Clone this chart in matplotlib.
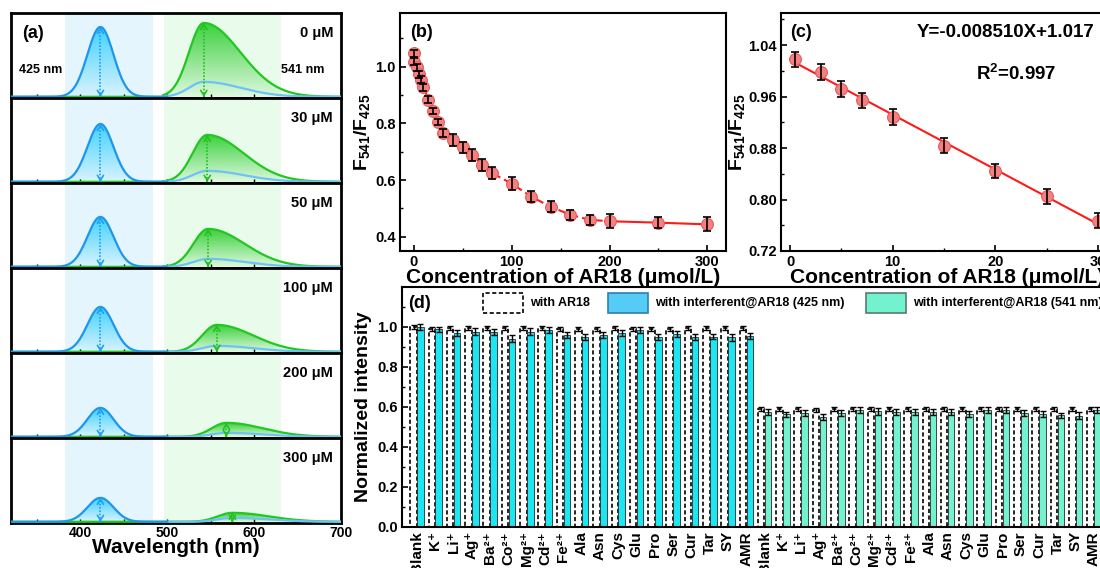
import numpy as np
import matplotlib
matplotlib.use('Agg')
import matplotlib.pyplot as plt
from matplotlib.patches import Polygon, Rectangle
from matplotlib.colors import to_rgb

plt.rcParams['font.family'] = ['Liberation Sans', 'DejaVu Sans']
plt.rcParams['font.weight'] = 'bold'
plt.rcParams['axes.labelweight'] = 'bold'
plt.rcParams['mathtext.fontset'] = 'custom'
plt.rcParams['mathtext.rm'] = 'Liberation Sans:bold'
plt.rcParams['mathtext.it'] = 'Liberation Sans:bold'
plt.rcParams['mathtext.bf'] = 'Liberation Sans:bold'
plt.rcParams['xtick.direction'] = 'in'
plt.rcParams['ytick.direction'] = 'in'
plt.rcParams['axes.linewidth'] = 1.5

# ---- (a) emission spectra, peak parameters ----
conc_labels = ['0 μM', '30 μM', '50 μM', '100 μM', '200 μM', '300 μM']
blue_peak_nm = [423, 423, 423, 423, 423, 423]
blue_peak_h = [70, 58, 50, 45, 29, 24]
green_peak_nm = [542, 546, 547, 557, 568, 575]
green_peak_h = [74, 47, 38, 27, 14, 9]
tail_peak_h = [15, 11, 8, 6, 4, 4]
blue_sigma = 15
green_sigma_l = 17
green_sigma_r = 42

# ---- (b) ratio vs concentration ----
conc_b = [0, 0.5, 3, 5, 7, 10, 15, 20, 25, 30, 40, 50, 60, 70, 80, 100, 120, 140, 160, 180, 200, 250, 300]
ratio_b = [1.048, 1.018, 0.998, 0.973, 0.954, 0.928, 0.884, 0.844, 0.805, 0.766, 0.742, 0.716, 0.689,
           0.654, 0.625, 0.588, 0.542, 0.506, 0.478, 0.46, 0.455, 0.45, 0.444]
err_b = [0.012, 0.012, 0.012, 0.012, 0.012, 0.012, 0.012, 0.012, 0.012, 0.013, 0.02, 0.02, 0.02,
         0.02, 0.02, 0.022, 0.02, 0.02, 0.018, 0.018, 0.025, 0.02, 0.025]

# ---- (c) linear range ----
conc_c = [0.5, 3, 5, 7, 10, 15, 20, 25, 30]
ratio_c = [1.018, 0.998, 0.972, 0.954, 0.928, 0.884, 0.844, 0.805, 0.767]
err_c = [0.012, 0.012, 0.012, 0.012, 0.012, 0.012, 0.011, 0.012, 0.012]
slope, intercept = -0.008510, 1.017

# ---- (d) selectivity ----
ions = ['Blank', 'K⁺', 'Li⁺', 'Ag⁺', 'Ba²⁺', 'Co²⁺', 'Mg²⁺', 'Cd²⁺', 'Fe²⁺',
        'Ala', 'Asn', 'Cys', 'Glu', 'Pro', 'Ser', 'Cur', 'Tar', 'SY', 'AMR']
ref_425 = [1.0, 0.99, 0.995, 0.995, 0.995, 0.993, 0.995, 0.995, 0.99, 0.99, 0.99, 0.995, 0.99, 0.99,
           0.99, 0.993, 0.993, 0.995, 0.995]
int_425 = [1.0, 0.988, 0.968, 0.977, 0.973, 0.942, 0.977, 0.983, 0.962, 0.952, 0.962, 0.97, 0.983,
           0.95, 0.967, 0.95, 0.952, 0.948, 0.956]
ref_541 = [0.59, 0.588, 0.588, 0.586, 0.588, 0.588, 0.588, 0.588, 0.588, 0.588, 0.588, 0.588, 0.59,
           0.59, 0.588, 0.588, 0.588, 0.588, 0.59]
int_541 = [0.575, 0.563, 0.572, 0.55, 0.572, 0.584, 0.578, 0.575, 0.575, 0.575, 0.573, 0.566, 0.584,
           0.587, 0.568, 0.565, 0.558, 0.557, 0.585]
err_ref = [0.01] * 19
err_int = [0.016, 0.014, 0.015, 0.016, 0.015, 0.016, 0.016, 0.015, 0.015, 0.015, 0.015, 0.015, 0.015,
           0.015, 0.015, 0.015, 0.013, 0.016, 0.016]

W, H = 1100, 568
fig = plt.figure(figsize=(11, 5.68), dpi=100)


def fax(l, t, r, b):
    return fig.add_axes([l / W, 1 - b / H, (r - l) / W, (b - t) / H])


def grad_fill(ax, x, y, color, a_top, a_bot):
    img = np.zeros((100, 1, 4))
    img[..., :3] = to_rgb(color)
    img[..., 3] = np.linspace(a_bot, a_top, 100)[:, None]
    im = ax.imshow(img, aspect='auto', origin='lower', extent=[x.min(), x.max(), 0, y.max()],
                   zorder=1, interpolation='bilinear')
    verts = np.column_stack([np.r_[x, x[::-1]], np.r_[y, np.zeros_like(y)]])
    patch = Polygon(verts, closed=True, facecolor='none', edgecolor='none', transform=ax.transData)
    ax.add_patch(patch)
    im.set_clip_path(patch)


def dbl_arrow(ax, x, h, color):
    ax.plot([x, x], [0, h], ls=(0, (1, 1)), color=color, lw=1.2, zorder=5)
    ap = dict(arrowstyle='->,head_length=0.35,head_width=0.22', color=color, lw=1.2, shrinkA=0, shrinkB=0)
    ax.annotate('', xy=(x, h), xytext=(x, h - 1), arrowprops=ap, zorder=5)
    ax.annotate('', xy=(x, 0), xytext=(x, 1), arrowprops=ap, zorder=5)


# ================= (a) =================
wl = np.linspace(320, 700, 761)
sub_h = (523 - 13) / 6
blue_c, green_c, tail_c = '#1E96EE', '#22C722', '#6EC2F6'
for i in range(6):
    top = 13 + i * sub_h
    ax = fax(11, top, 341, top + sub_h)
    ax.axvspan(382, 484, color='#E4F5FD', lw=0, zorder=0)
    ax.axvspan(496, 631, color='#E9FBEA', lw=0, zorder=0)
    b = blue_peak_h[i] * np.exp(-0.5 * ((wl - blue_peak_nm[i]) / blue_sigma) ** 2)
    c = green_peak_nm[i]
    s = np.where(wl < c, green_sigma_l, green_sigma_r)
    shape = np.exp(-0.5 * ((wl - c) / s) ** 2)
    g = green_peak_h[i] * shape
    t = tail_peak_h[i] * shape
    bm = wl <= 500
    gm = wl >= 495
    grad_fill(ax, wl[bm], b[bm], '#22CCFF', 0.85, 0.05)
    grad_fill(ax, wl[gm], g[gm], '#2ACC2A', 0.9, 0.06)
    ax.plot(wl, np.where(gm, g, 0), color=green_c, lw=1.6, zorder=3)
    ax.plot(wl[gm], t[gm], color=tail_c, lw=1.6, zorder=3)
    ax.plot(wl[bm], b[bm], color=blue_c, lw=1.6, zorder=4)
    dbl_arrow(ax, blue_peak_nm[i], blue_peak_h[i], '#1FA0EE')
    dbl_arrow(ax, c, green_peak_h[i], '#22C022')
    ax.set_xlim(320, 700)
    ax.set_ylim(-1.2, 84)
    ax.set_yticks([])
    ax.set_xticks([400, 500, 600, 700])
    ax.set_xticks([350, 450, 550, 650], minor=True)
    ax.tick_params(axis='x', which='both', length=3, width=1)
    for sp in ax.spines.values():
        sp.set_linewidth(2)
    ax.text(0.976, 0.76, conc_labels[i], transform=ax.transAxes, ha='right', va='center',
            fontsize=10.5, fontweight='bold')
    if i == 0:
        ax.text(0.035, 0.76, '(a)', transform=ax.transAxes, ha='left', va='center', fontsize=13)
        ax.text(0.09, 0.33, '425 nm', transform=ax.transAxes, ha='center', va='center', fontsize=9)
        ax.text(0.885, 0.33, '541 nm', transform=ax.transAxes, ha='center', va='center', fontsize=9)
    if i < 5:
        ax.tick_params(axis='x', labelbottom=False)
    else:
        ax.tick_params(axis='x', labelsize=10, pad=2)
        ax.set_xlabel('Wavelength (nm)', fontsize=15, labelpad=-1)

# ================= (b) =================
pt_face, pt_edge, line_c = '#F58080', '#E25A5A', '#FF1A1A'
axb = fax(400, 13, 726, 251)
k = conc_b.index(200)
axb.plot(conc_b[:k + 1], ratio_b[:k + 1], ls=(0, (4, 2)), color=line_c, lw=1.5, zorder=2)
axb.plot(conc_b[k:], ratio_b[k:], ls='-', color=line_c, lw=1.5, zorder=2)
axb.plot(conc_b, ratio_b, 'o', ms=8.5, mfc=pt_face, mec=pt_edge, mew=0.8, zorder=3)
axb.errorbar(conc_b, ratio_b, yerr=err_b, fmt='none', ecolor='black', elinewidth=1.2,
             capsize=3, capthick=1.2, zorder=4)
axb.set_xlim(-14, 319)
axb.set_ylim(0.35, 1.19)
axb.set_xticks([0, 100, 200, 300])
axb.set_xticks([50, 150, 250], minor=True)
axb.set_yticks([0.4, 0.6, 0.8, 1.0])
axb.set_yticks([0.5, 0.7, 0.9, 1.1], minor=True)
axb.tick_params(which='major', length=4, width=1.2, labelsize=10.5, pad=3)
axb.tick_params(which='minor', length=2.5, width=1)
axb.set_xlabel('Concentration of AR18 (μmol/L)', fontsize=15, labelpad=-1)
axb.set_ylabel('F$_{541}$/F$_{425}$', fontsize=14, labelpad=2)
axb.text(0.03, 0.916, '(b)', transform=axb.transAxes, ha='left', va='center', fontsize=13)

# ================= (c) =================
axc = fax(781, 13, 1113, 251)
axc.set_xlim(-0.88, 31.45)
axc.set_ylim(0.72, 1.09)
fit_x = np.array([conc_c[0], axc.get_xlim()[1]])
axc.plot(fit_x, slope * fit_x + intercept, color=line_c, lw=1.5, zorder=2)
axc.plot(conc_c, ratio_c, 'o', ms=8.5, mfc=pt_face, mec=pt_edge, mew=0.8, zorder=3)
axc.errorbar(conc_c, ratio_c, yerr=err_c, fmt='none', ecolor='black', elinewidth=1.2,
             capsize=3, capthick=1.2, zorder=4)
axc.set_xticks([0, 10, 20, 30])
axc.set_xticks([5, 15, 25], minor=True)
axc.set_yticks([0.72, 0.80, 0.88, 0.96, 1.04])
axc.set_yticks([0.76, 0.84, 0.92, 1.00, 1.08], minor=True)
axc.tick_params(which='major', length=4, width=1.2, labelsize=10.5, pad=3)
axc.tick_params(which='minor', length=2.5, width=1)
axc.set_xlabel('Concentration of AR18 (μmol/L)', fontsize=15, labelpad=-1)
axc.set_ylabel('F$_{541}$/F$_{425}$', fontsize=14, labelpad=1)
axc.text(0.027, 0.916, '(c)', transform=axc.transAxes, ha='left', va='center', fontsize=13)
axc.text(0.675, 0.916, 'Y=-0.008510X+1.017', transform=axc.transAxes, ha='center', va='center',
         fontsize=13.5)
axc.text(0.71, 0.745, 'R$^2$=0.997', transform=axc.transAxes, ha='center', va='center', fontsize=13.5)

# ================= (d) =================
axd = fax(402, 287, 1105, 527)
n = len(ions)
xpos = np.arange(2 * n)
bw = 0.36
cyan, aqua = '#1CE6F2', '#72F2CE'
axd.bar(xpos - 0.19, ref_425 + ref_541, width=bw, facecolor='white', edgecolor='black',
        ls=(0, (2.5, 1.5)), lw=1.2, zorder=2)
axd.bar(xpos[:n] + 0.19, int_425, width=bw, color=cyan, edgecolor='#2a2a2a', lw=0.6, zorder=2)
axd.bar(xpos[n:] + 0.19, int_541, width=bw, color=aqua, edgecolor='#2a2a2a', lw=0.6, zorder=2)
axd.errorbar(xpos - 0.19, ref_425 + ref_541, yerr=err_ref * 2, fmt='none', ecolor='black',
             elinewidth=1, capsize=2.5, capthick=1, zorder=3)
axd.errorbar(xpos + 0.19, int_425 + int_541, yerr=err_int * 2, fmt='none', ecolor='black',
             elinewidth=1, capsize=2.5, capthick=1, zorder=3)
axd.set_xlim(-0.82, 37.6)
axd.set_ylim(0, 1.2)
axd.set_xticks(xpos)
axd.set_xticklabels(ions * 2, rotation=90, fontsize=11)
axd.tick_params(axis='x', length=0, pad=3)
axd.set_yticks([0.0, 0.2, 0.4, 0.6, 0.8, 1.0])
axd.set_yticks([0.1, 0.3, 0.5, 0.7, 0.9, 1.1], minor=True)
axd.tick_params(axis='y', which='major', length=4, width=1.2, labelsize=10.5, pad=3)
axd.tick_params(axis='y', which='minor', length=2.5, width=1)
axd.set_ylabel('Normalized intensity', fontsize=14, labelpad=4)
axd.text(0.009, 0.933, '(d)', transform=axd.transAxes, ha='left', va='center', fontsize=13)

# legend boxes drawn in axes fraction
leg = [((0.115, 0.172), 'white', 'black', (0, (2.5, 1.5)), 'with AR18'),
       ((0.293, 0.350), '#55CCF5', '#2E7FB0', '-', 'with interferent@AR18 (425 nm)'),
       ((0.660, 0.717), aqua, '#5a7a70', '-', 'with interferent@AR18 (541 nm)')]
for (x0, x1), fc, ec, ls, lab in leg:
    axd.add_patch(Rectangle((x0, 0.892), x1 - x0, 0.083, transform=axd.transAxes, facecolor=fc,
                            edgecolor=ec, ls=ls, lw=1.2, zorder=5, clip_on=False))
    axd.text(x1 + 0.01, 0.933, lab, transform=axd.transAxes, ha='left', va='center', fontsize=9)

fig.savefig('out.png', dpi=100)
